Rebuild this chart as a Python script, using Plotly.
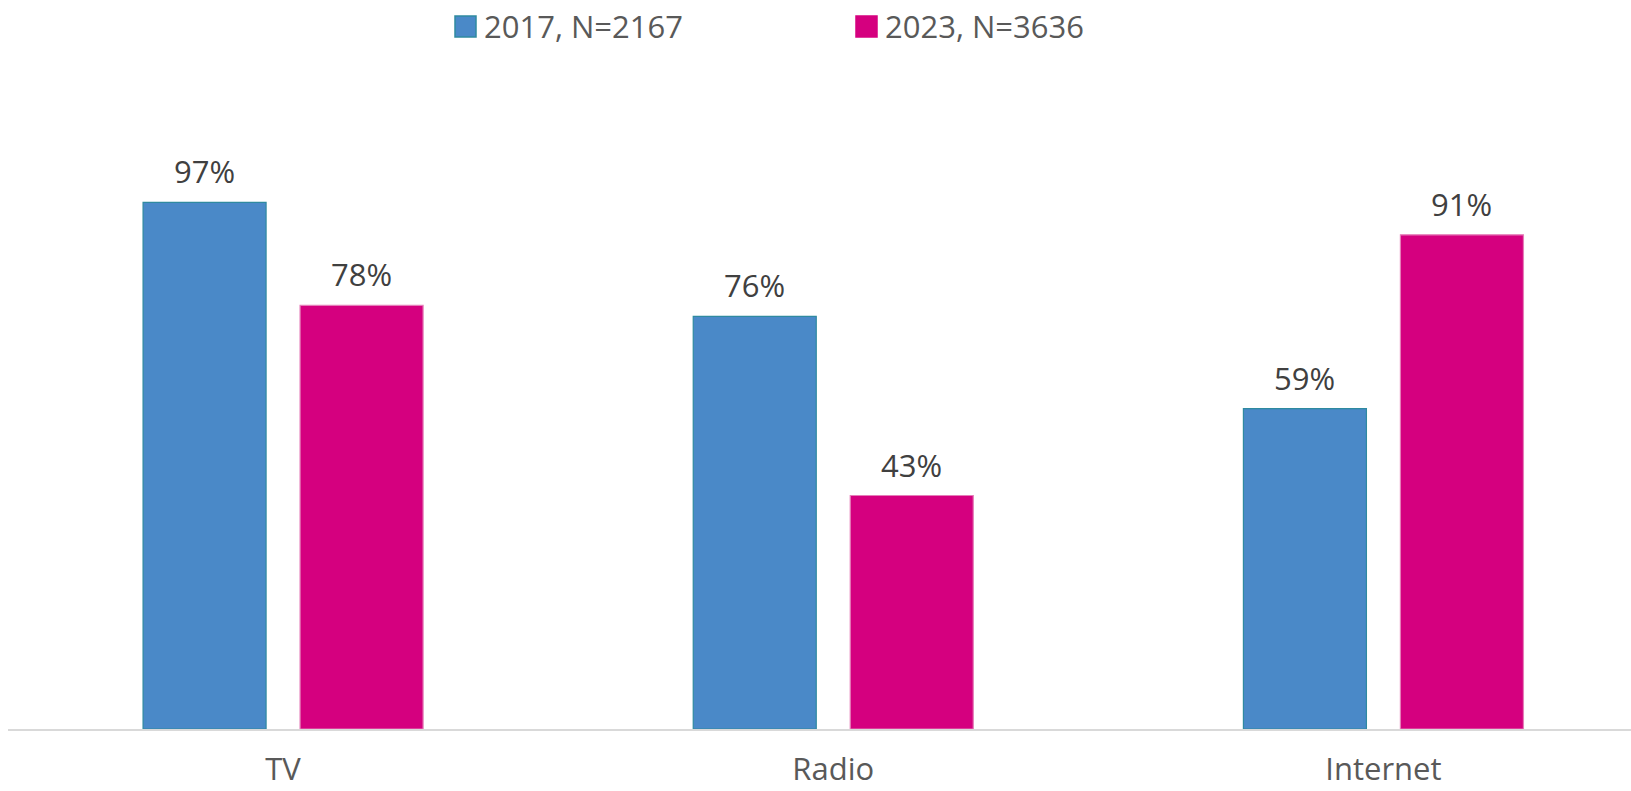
import plotly.graph_objects as go

# Share of respondents using each media channel
categories = ["TV", "Radio", "Internet"]
series_names = ["2017, N=2167", "2023, N=3636"]
values_2017 = [97, 76, 59]
values_2023 = [78, 43, 91]

W, H = 1631, 791
ML, MR, MT, MB = 8, 0, 186, 62
PW, PH = W - ML - MR, H - MT - MB

BLUE, BLUE_EDGE = "#4A89C8", "#2F8AA0"
PINK, PINK_EDGE = "#D5007F", "#E57DB8"
FONT = "Open Sans"

BAR_W = 0.2236
OFFSETS = [-0.2545, 0.0309]

x_idx = list(range(len(categories)))
series = [
    (series_names[0], values_2017, BLUE, BLUE_EDGE, OFFSETS[0]),
    (series_names[1], values_2023, PINK, PINK_EDGE, OFFSETS[1]),
]

fig = go.Figure()
annotations = []
for name, vals, fill, edge, off in series:
    fig.add_trace(go.Bar(
        x=x_idx, y=vals, name=name, width=BAR_W, offset=off,
        marker=dict(color=fill, line=dict(color=edge, width=1.2)),
        showlegend=False, hoverinfo="skip",
    ))
    for xi, v in zip(x_idx, vals):
        annotations.append(dict(
            x=xi + off + BAR_W / 2, y=v, xref="x", yref="y",
            text=f"{v}%", showarrow=False, yanchor="bottom", yshift=8,
            font=dict(family=FONT, size=31, color="#404040"),
        ))

def px_x(p):
    return (p - ML) / PW

def px_y(p):
    return (H - MB - p) / PH

# Legend drawn as swatches with labels above the plot
shapes = []
legend_items = [(455, 484, BLUE, BLUE_EDGE, series_names[0]),
                (856, 885, PINK, PINK, series_names[1])]
for sx, tx, fill, edge, label in legend_items:
    shapes.append(dict(type="rect", xref="paper", yref="paper",
                       x0=px_x(sx), x1=px_x(sx + 21), y0=px_y(37), y1=px_y(16),
                       fillcolor=fill, line=dict(color=edge, width=1.5)))
    annotations.append(dict(x=px_x(tx - 2), y=px_y(26), xref="paper", yref="paper",
                            text=label, showarrow=False, xanchor="left", yanchor="middle",
                            font=dict(family=FONT, size=31, color="#595959")))

fig.update_layout(
    width=W, height=H,
    margin=dict(l=ML, r=MR, t=MT, b=MB, pad=0, autoexpand=False),
    paper_bgcolor="white", plot_bgcolor="white",
    barmode="overlay",
    showlegend=False,
    annotations=annotations,
    shapes=shapes,
    xaxis=dict(
        range=[-0.5, 2.45], tickvals=x_idx, ticktext=categories,
        showgrid=False, zeroline=False, showline=True,
        linecolor="#D9D9D9", linewidth=2, ticks="",
        tickfont=dict(family=FONT, size=31, color="#595959"),
        ticklabelstandoff=12, automargin=False, fixedrange=True,
    ),
    yaxis=dict(range=[0, 100], visible=False, showgrid=False, zeroline=False,
               automargin=False, fixedrange=True),
)

fig.write_html("out.html")
